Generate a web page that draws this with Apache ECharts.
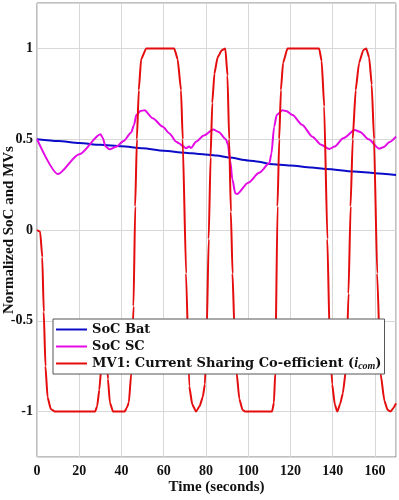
<!DOCTYPE html>
<html>
<head>
<meta charset="utf-8">
<script src="https://cdn.jsdelivr.net/npm/echarts@6/dist/echarts.min.js"></script>
<style>
  html, body { margin: 0; padding: 0; background: #fff; }
  #chart { width: 399px; height: 500px; }
</style>
</head>
<body>
<div id="chart"></div>
<script>
  // time (s) / value pairs
  const socBat = [
    [0, 0.5], [10, 0.49], [20, 0.479], [30, 0.469], [40, 0.461], [50, 0.45],
    [60, 0.437], [70, 0.426], [77, 0.418], [85, 0.41], [91, 0.399], [100, 0.383],
    [105, 0.376], [110, 0.364], [120, 0.355], [130, 0.344], [137, 0.336],
    [150, 0.322], [160, 0.313], [170, 0.303]
  ]

  const socSc = [
    [0, 0.5], [9.9, 0.308], [20, 0.417], [30.1, 0.527], [31, 0.51], [32.5, 0.46],
    [34.4, 0.444], [37.5, 0.458], [41, 0.49], [44.6, 0.537], [46, 0.58], [47, 0.633],
    [49, 0.655], [50.9, 0.66], [54.8, 0.615], [59.6, 0.569], [62.7, 0.532],
    [65.9, 0.486], [67.4, 0.477], [69, 0.462], [70.6, 0.45], [72, 0.46], [73, 0.452],
    [75.3, 0.486], [79, 0.52], [83.5, 0.553], [86, 0.54], [89.5, 0.499], [90.4, 0.47],
    [91.5, 0.38], [92.5, 0.28], [93.9, 0.202], [94.7, 0.198], [100, 0.26],
    [105.2, 0.315], [110, 0.367], [111, 0.42], [112.3, 0.569], [113.5, 0.633],
    [116.2, 0.66], [118, 0.655], [121, 0.633], [125.5, 0.58], [130.4, 0.514],
    [134.5, 0.47], [138.4, 0.446], [141, 0.46], [145, 0.505], [150.5, 0.55],
    [153, 0.54], [157, 0.5], [162, 0.448], [164, 0.455], [167, 0.485], [170, 0.514]
  ]

  const mv1 = [
    [0, 0], [1.5, -0.01], [2.5, -0.15], [3.2, -0.45], [4, -0.75], [5, -0.92],
    [6.5, -0.985], [8.5, -1], [27.5, -1], [28.5, -0.97], [29.5, -0.88],
    [30.5, -0.75], [31.5, -0.63], [32.2, -0.6], [32.9, -0.68], [33.6, -0.82],
    [34.5, -0.95], [36, -1], [41.5, -1], [42.5, -0.98], [43.5, -0.95],
    [44.6, -0.79], [45.7, -0.42], [46.5, 0.13], [47.3, 0.5], [48.2, 0.77],
    [49.3, 0.94], [51.7, 1], [65, 1], [66.6, 0.94], [68.2, 0.77], [69, 0.5],
    [70.6, -0.24], [72.1, -0.86], [73.5, -0.96], [75.3, -1], [77, -0.97],
    [78.5, -0.92], [79.5, -0.85], [80.3, -0.6], [81.3, -0.05], [82.2, 0.4],
    [83, 0.7], [84, 0.86], [85.5, 0.95], [87.5, 0.99], [89.2, 1], [90.2, 0.85],
    [91, 0.5], [91.8, 0.1], [92.6, -0.24], [93.5, -0.55], [94.5, -0.78],
    [95.8, -0.93], [97.3, -0.99], [98.5, -1], [111.3, -1], [112.2, -0.95],
    [112.8, -0.79], [113.9, 0.13], [114.7, 0.5], [115.5, 0.77], [116.5, 0.92],
    [118.6, 1], [133.6, 1], [134.8, 0.93], [136, 0.68], [137.5, -0.05],
    [138.6, -0.6], [139.8, -0.85], [141, -0.96], [142.2, -1], [143.5, -0.96],
    [144.8, -0.9], [146.5, -0.75], [147.5, -0.35], [148.5, 0.13], [149.5, 0.5],
    [150.9, 0.77], [152.5, 0.92], [154.5, 0.99], [155.9, 1], [157.3, 0.95],
    [158.5, 0.8], [159.6, 0.5], [161.1, -0.24], [162.7, -0.79], [164.5, -0.94],
    [166, -0.99], [167.4, -1], [168.8, -0.98], [170, -0.955]
  ]

  const seriesNames = ['SoC Bat', 'SoC SC', 'MV1: Current Sharing Co-efficient']
  const seriesColors = ['#0c0cc8', '#e40ae4', '#e40c0c']

  const serif = '"Liberation Serif", "Times New Roman", serif'
  const legendFont = '"DejaVu Serif", serif'

  const chart = echarts.init(document.getElementById('chart'))

  const lineSeries = (name, data, color, smooth) => ({
    name: name,
    type: 'line',
    data: data,
    symbol: 'none',
    smooth: smooth,
    smoothMonotone: 'x',
    lineStyle: { color: color, width: 2 },
    itemStyle: { color: color }
  })

  chart.setOption({
    animation: false,
    grid: {
      left: 37,
      right: 3,
      top: 3,
      bottom: 43,
      containLabel: false,
      outerBoundsMode: 'none',
      show: true,
      borderColor: '#808080',
      borderWidth: 1
    },
    legend: {
      orient: 'vertical',
      left: 53,
      top: 319,
      padding: [3, 3, 3, 3],
      itemGap: 2,
      itemWidth: 31,
      itemHeight: 2,
      icon: 'rect',
      backgroundColor: '#fff',
      borderColor: '#555',
      borderWidth: 1,
      data: seriesNames,
      formatter: (name) => {
        if (name === seriesNames[2]) {
          return name + ' ({it|i}{sub|com})'
        }
        return name
      },
      textStyle: {
        fontFamily: legendFont,
        fontWeight: 'bold',
        fontSize: 13,
        lineHeight: 15,
        color: '#111',
        rich: {
          it: { fontFamily: serif, fontStyle: 'italic', fontSize: 14, color: '#111' },
          sub: {
            fontFamily: serif,
            fontStyle: 'italic',
            fontSize: 10,
            color: '#111',
            padding: [5, 0, 0, 0]
          }
        }
      }
    },
    xAxis: {
      type: 'value',
      min: 0,
      max: 170,
      interval: 20,
      name: 'Time (seconds)',
      nameLocation: 'middle',
      nameGap: 23,
      nameMoveOverlap: false,
      nameTextStyle: { fontFamily: serif, fontWeight: 'bold', fontSize: 15, color: '#111' },
      axisLine: { show: false },
      axisTick: { show: false },
      axisLabel: {
        showMaxLabel: false,
        margin: 7,
        fontFamily: serif,
        fontWeight: 'bold',
        fontSize: 14,
        color: '#111'
      },
      splitLine: { show: true, lineStyle: { color: '#d8d8d8', width: 1 } }
    },
    yAxis: {
      type: 'value',
      min: -1.25,
      max: 1.25,
      splitNumber: 5,
      name: 'Normalized SoC and MVs',
      nameLocation: 'middle',
      nameGap: 20,
      nameMoveOverlap: false,
      nameTextStyle: { fontFamily: serif, fontWeight: 'bold', fontSize: 15, color: '#111' },
      axisLine: { show: false },
      axisTick: { show: false },
      axisLabel: {
        showMinLabel: false,
        showMaxLabel: false,
        margin: 4,
        fontFamily: serif,
        fontWeight: 'bold',
        fontSize: 14,
        color: '#111'
      },
      splitLine: { show: true, lineStyle: { color: '#d8d8d8', width: 1 } }
    },
    series: [
      lineSeries(seriesNames[0], socBat, seriesColors[0], 0.25),
      lineSeries(seriesNames[1], socSc, seriesColors[1], 0.25),
      lineSeries(seriesNames[2], mv1, seriesColors[2], 0.15)
    ]
  })
</script>
</body>
</html>
